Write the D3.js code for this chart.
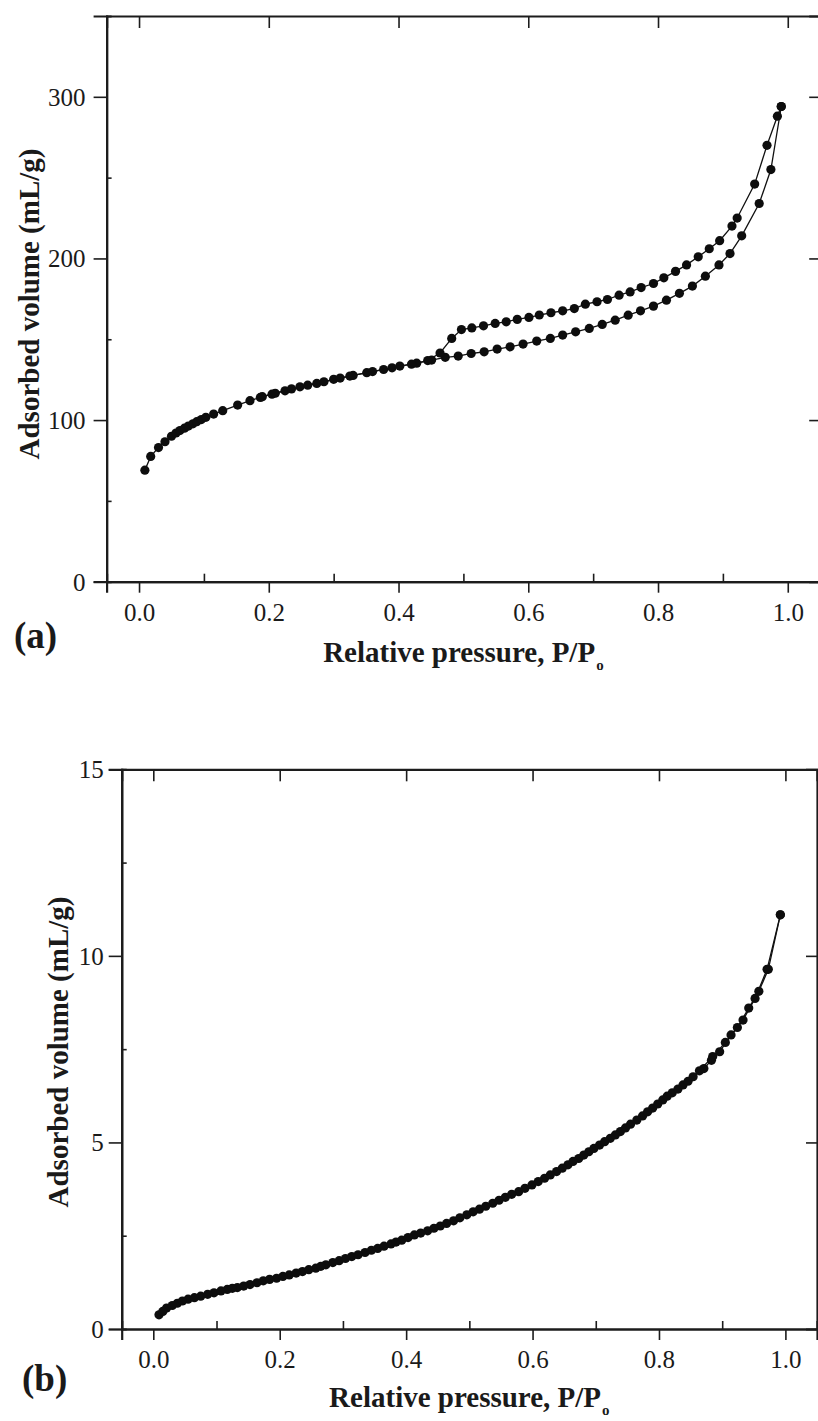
<!DOCTYPE html>
<html>
<head>
<meta charset="utf-8">
<script src="https://cdn.jsdelivr.net/npm/d3@7"></script>
<style>
  html, body { margin: 0; padding: 0; background: #fff; }
  svg { display: block; }
  text { font-family: "Liberation Serif", "Times New Roman", serif; fill: #1a1a1a; }
</style>
</head>
<body>
<script>
// ---- Panel (a): N2 isotherm, adsorption and desorption branches ----
const adsA_p = [0.009, 0.018, 0.030, 0.040, 0.050, 0.057, 0.063, 0.070, 0.076, 0.083, 0.089, 0.096,
  0.103, 0.115, 0.129, 0.152, 0.171, 0.187, 0.205, 0.225, 0.248, 0.274, 0.300, 0.325, 0.351,
  0.377, 0.402, 0.428, 0.451, 0.472, 0.492, 0.512, 0.532, 0.552, 0.572, 0.592, 0.613, 0.634,
  0.653, 0.673, 0.694, 0.714, 0.734, 0.754, 0.773, 0.793, 0.813, 0.833, 0.853, 0.873, 0.894,
  0.911, 0.929, 0.956, 0.974, 0.990];
const adsA_v = [69.0, 77.5, 83.0, 86.6, 90.0, 92.0, 93.5, 95.0, 96.3, 97.7, 99.0, 100.3,
  101.7, 103.7, 105.8, 109.3, 112.0, 114.0, 116.0, 118.1, 120.6, 122.7, 125.2, 127.2, 129.3,
  131.3, 133.4, 135.2, 137.1, 138.8, 139.6, 141.2, 142.2, 143.9, 145.3, 147.0, 148.9, 150.5,
  152.6, 154.6, 156.7, 159.2, 161.8, 164.9, 167.6, 170.5, 174.2, 178.4, 182.9, 189.0, 196.0,
  203.0, 214.0, 234.0, 255.0, 294.0];

const desA_p = [0.990, 0.984, 0.968, 0.949, 0.922, 0.914, 0.895, 0.879, 0.862, 0.844, 0.827,
  0.809, 0.793, 0.774, 0.757, 0.740, 0.722, 0.706, 0.688, 0.671, 0.653, 0.635, 0.617, 0.601,
  0.583, 0.566, 0.549, 0.531, 0.513, 0.497, 0.482, 0.464, 0.445, 0.420, 0.390, 0.360, 0.330,
  0.310, 0.285, 0.260, 0.235, 0.210, 0.190];
const desA_v = [294.0, 288.0, 270.0, 246.0, 225.0, 220.0, 211.0, 206.0, 201.0, 196.0, 192.0,
  188.0, 184.5, 182.0, 179.3, 177.3, 174.6, 173.2, 171.7, 169.0, 167.6, 166.4, 165.0, 163.5,
  162.3, 160.8, 159.8, 158.3, 157.0, 156.0, 150.5, 141.5, 136.8, 134.6, 132.3, 130.0, 127.6,
  126.0, 123.7, 121.6, 119.3, 116.6, 114.5];

// ---- Panel (b): nearly reversible isotherm ----
const adsB_p = [0.009, 0.021, 0.038, 0.055, 0.075, 0.096, 0.117, 0.133, 0.153, 0.174, 0.195,
  0.215, 0.236, 0.257, 0.273, 0.294, 0.314, 0.335, 0.355, 0.376, 0.393, 0.413, 0.434, 0.454,
  0.475, 0.496, 0.516, 0.537, 0.557, 0.578, 0.599, 0.619, 0.638, 0.656, 0.673, 0.689, 0.706,
  0.723, 0.739, 0.755, 0.774, 0.790, 0.806, 0.821, 0.838, 0.854, 0.871, 0.883, 0.896, 0.914,
  0.933, 0.952, 0.971, 0.992];
const adsB_v = [0.38, 0.56, 0.69, 0.80, 0.88, 0.97, 1.06, 1.11, 1.19, 1.29, 1.36,
  1.45, 1.54, 1.63, 1.72, 1.83, 1.94, 2.05, 2.16, 2.28, 2.38, 2.52, 2.63, 2.76,
  2.90, 3.06, 3.21, 3.37, 3.53, 3.68, 3.86, 4.04, 4.22, 4.40, 4.57, 4.75, 4.93,
  5.11, 5.29, 5.49, 5.71, 5.92, 6.14, 6.33, 6.54, 6.76, 6.98, 7.20, 7.43, 7.88,
  8.28, 8.86, 9.64, 11.10];

const desB_p = [0.992, 0.973, 0.958, 0.942, 0.924, 0.905, 0.885, 0.864, 0.846, 0.830, 0.813,
  0.798, 0.782, 0.765, 0.747, 0.731, 0.714, 0.697, 0.681, 0.664, 0.647, 0.628, 0.609, 0.588,
  0.567, 0.547, 0.526, 0.506, 0.485, 0.464, 0.444, 0.423, 0.403, 0.384, 0.365, 0.345, 0.324,
  0.304, 0.284, 0.265, 0.246, 0.226, 0.205, 0.184, 0.164, 0.143, 0.125, 0.107, 0.086, 0.065,
  0.046, 0.030, 0.015];
const desB_v = [11.10, 9.64, 9.05, 8.60, 8.08, 7.68, 7.30, 6.92, 6.64, 6.43, 6.24,
  6.03, 5.82, 5.60, 5.39, 5.20, 5.02, 4.84, 4.66, 4.49, 4.31, 4.13, 3.95, 3.77,
  3.61, 3.45, 3.29, 3.14, 2.98, 2.83, 2.70, 2.57, 2.45, 2.33, 2.22, 2.11, 1.99,
  1.89, 1.78, 1.68, 1.59, 1.50, 1.41, 1.33, 1.24, 1.15, 1.09, 1.02, 0.93, 0.84,
  0.75, 0.63, 0.47];

const xTicks = [0.0, 0.2, 0.4, 0.6, 0.8, 1.0];
const xMinor = [0.1, 0.3, 0.5, 0.7, 0.9];
const yTicksA = [0, 100, 200, 300];
const yMinorA = [50, 150, 250];
const yTicksB = [0, 5, 10, 15];
const yMinorB = [2.5, 7.5, 12.5];

const xTitle = "Relative pressure, P/P";
const xTitleSub = "o";
const yTitle = "Adsorbed volume (mL/g)";

const W = 818, H = 1421;
const svg = d3.select("body").append("svg").attr("width", W).attr("height", H);
svg.append("rect").attr("width", W).attr("height", H).attr("fill", "#fff");

function zip(ps, vs) { return ps.map((p, i) => ({ p, v: vs[i] })); }

function panel(cfg) {
  const x = d3.scaleLinear().domain([-0.05, 1.05]).range(cfg.xr);
  const y = d3.scaleLinear().domain(cfg.yd).range(cfg.yr);
  const g = svg.append("g");
  const ink = "#1c1c1c";

  // bottom axis: major ticks outward with labels
  const bottom = g.append("g").attr("transform", `translate(0,${cfg.yr[0]})`)
    .call(d3.axisBottom(x).tickValues(xTicks).tickSize(11).tickPadding(10)
      .tickFormat(d3.format(".1f")));
  // bottom axis: minor ticks inward
  const bottomMinor = g.append("g").attr("transform", `translate(0,${cfg.yr[0]})`)
    .call(d3.axisBottom(x).tickValues(xMinor).tickSize(-8).tickFormat(""));
  // top axis: major ticks inward
  const top = g.append("g").attr("transform", `translate(0,${cfg.yr[1]})`)
    .call(d3.axisTop(x).tickValues(xTicks).tickSize(-12).tickFormat(""));
  // left axis: major outward with labels, minor inward
  const left = g.append("g").attr("transform", `translate(${cfg.xr[0]},0)`)
    .call(d3.axisLeft(y).tickValues(cfg.yTicks).tickSize(13).tickPadding(cfg.yPad)
      .tickFormat(d3.format("d")));
  const leftMinor = g.append("g").attr("transform", `translate(${cfg.xr[0]},0)`)
    .call(d3.axisLeft(y).tickValues(cfg.yMinor).tickSize(-5).tickFormat(""));
  // right axis: major ticks inward
  const right = g.append("g").attr("transform", `translate(${cfg.xr[1]},0)`)
    .call(d3.axisRight(y).tickValues(cfg.yTicks.filter(d => d > cfg.yd[0] && d < cfg.yd[1]))
      .tickSize(-11).tickFormat(""));

  [bottom, bottomMinor, top, left, leftMinor, right].forEach(a => {
    a.selectAll(".domain").attr("stroke", ink).attr("stroke-width", 2.2);
    a.selectAll(".tick line").attr("stroke", ink).attr("stroke-width", 1.6);
    a.selectAll(".tick text").attr("font-family", "Liberation Serif, serif")
      .attr("font-size", 25).attr("fill", "#2a2a2a");
  });
  bottom.selectAll(".tick text").attr("dy", "0.72em");
  left.selectAll(".tick text").attr("dy", "0.34em");

  // data: connecting line and filled circles for each branch
  const line = d3.line().x(d => x(d.p)).y(d => y(d.v));
  cfg.series.forEach(s => {
    g.append("path").datum(s).attr("d", line)
      .attr("fill", "none").attr("stroke", "#111").attr("stroke-width", 1.3);
  });
  cfg.series.forEach(s => {
    g.append("g").selectAll("circle").data(s).join("circle")
      .attr("cx", d => x(d.p)).attr("cy", d => y(d.v)).attr("r", 4.6)
      .attr("fill", "#0d0d0d");
  });

  // axis titles
  const cx = (cfg.xr[0] + cfg.xr[1]) / 2;
  const xt = g.append("text").attr("x", cx).attr("y", cfg.xTitleY)
    .attr("text-anchor", "middle").attr("font-weight", "bold").attr("font-size", 29);
  xt.append("tspan").text(xTitle);
  xt.append("tspan").text(xTitleSub).attr("font-size", 15).attr("dy", 8).attr("dx", 1);

  g.append("text")
    .attr("transform", `translate(${cfg.yTitleX},${cfg.yTitleY}) rotate(-90)`)
    .attr("text-anchor", "middle").attr("font-weight", "bold").attr("font-size", 29)
    .text(yTitle);

  g.append("text").attr("x", cfg.tagX).attr("y", cfg.tagY)
    .attr("font-weight", "bold").attr("font-size", 37).text(cfg.tag);
}

panel({
  xr: [106.6, 820.2], yr: [581.7, 16], yd: [0, 350],
  yTicks: yTicksA, yMinor: yMinorA, yPad: 8,
  series: [zip(adsA_p, adsA_v), zip(desA_p, desA_v)],
  xTitleY: 662, yTitleX: 39, yTitleY: 304,
  tag: "(a)", tagX: 14, tagY: 648
});

panel({
  xr: [121.7, 817], yr: [1329, 769.3], yd: [0, 15],
  yTicks: yTicksB, yMinor: yMinorB, yPad: 5,
  series: [zip(adsB_p, adsB_v), zip(desB_p, desB_v)],
  xTitleY: 1407, yTitleX: 68, yTitleY: 1052,
  tag: "(b)", tagX: 22, tagY: 1391
});
</script>
</body>
</html>
